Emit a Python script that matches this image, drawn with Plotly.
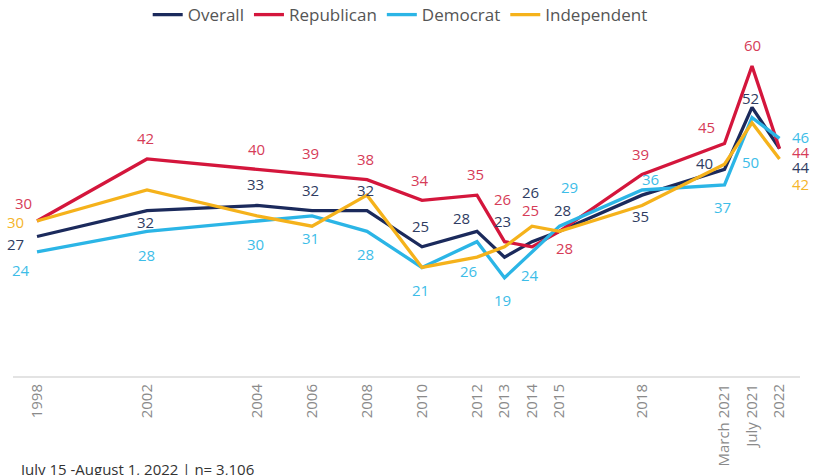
import plotly.graph_objects as go

# ---- data ----
periods = ["1998", "2002", "2004", "2006", "2008", "2010", "2012", "2013",
           "2014", "2015", "2018", "March 2021", "July 2021", "2022"]
# horizontal slot of each period on the axis (uneven spacing as in the original)
slots = [0, 4, 8, 10, 12, 14, 16, 17, 18, 19, 22, 25, 26, 27]

overall = [27, 32, 33, 32, 32, 25, 28, 23, 26, 28, 35, 40, 52, 44]
republican = [30, 42, 40, 39, 38, 34, 35, 26, 25, 28, 39, 45, 60, 44]
democrat = [24, 28, 30, 31, 28, 21, 26, 19, 24, 29, 36, 37, 50, 46]
independent = [30, 36, 31, 29, 35, 21, 23, 25, 29, 28, 33, 41, 49, 42]

# which points carry a visible label (index into periods) for each series
ind_labeled = [0, 13]

# ---- label offsets in pixels (dx right, dy down) ----
overall_off = [(-22, 8), (-2, 11), (-2, -21), (-2, -21), (-2, -21), (-2, -21), (-16, -13),
               (-2, -36), (-2, -50), (3, -21), (-2, 21), (-20, -6), (-2, -9), (21, 18)]
rep_off = [(-14, -18), (-2, -21), (-1, -20), (-2, -21), (-2, -21), (-2, -20), (-2, -21),
           (-2, -43), (-2, -37), (5, 17), (-2, -20), (-18, -16), (0, -21), (21, 3)]
dem_off = [(-16, 18), (-1, 24), (-2, 23), (-2, 22), (-2, 23), (-2, 23), (-9, 29),
           (-2, 22), (-2, 23), (10, -39), (8, -11), (-2, 22), (-2, 44), (21, -1)]
ind_off = {0: (-22, 1), 13: (21, 25)}

colors = {
    "Overall": "#1b2a5c",
    "Republican": "#d4163c",
    "Democrat": "#2bb5e6",
    "Independent": "#f5b21b",
}
label_colors = {
    "Overall": "#2f3c62",
    "Republican": "#d63c58",
    "Democrat": "#3dbde8",
    "Independent": "#f5b52a",
}

FONT = "'Open Sans', Lato, sans-serif"

fig = go.Figure()
series = [("Overall", overall), ("Republican", republican),
          ("Democrat", democrat), ("Independent", independent)]
for name, vals in series:
    fig.add_trace(go.Scatter(
        x=slots, y=vals, mode="lines", name=name,
        line=dict(color=colors[name], width=3.3),
        hoverinfo="skip",
    ))

annotations = []


def add_labels(name, vals, offsets, idxs=None):
    idxs = range(len(vals)) if idxs is None else idxs
    for i in idxs:
        dx, dy = offsets[i]
        annotations.append(dict(
            x=slots[i], y=vals[i], xref="x", yref="y",
            text=str(vals[i]), showarrow=False,
            xshift=dx, yshift=-dy, borderpad=0,
            font=dict(family=FONT, size=15, color=label_colors[name]),
        ))


add_labels("Overall", overall, overall_off)
add_labels("Republican", republican, rep_off)
add_labels("Democrat", democrat, dem_off)
add_labels("Independent", independent, ind_off, ind_labeled)

annotations.append(dict(
    x=0.005, y=-0.292, xref="paper", yref="paper", xanchor="left", yanchor="middle",
    text="July 15 -August 1, 2022 | n= 3,106", showarrow=False,
    font=dict(family=FONT, size=15, color="#333333"),
))

fig.update_layout(
    width=813, height=475,
    margin=dict(l=13, r=13, t=56, b=99, autoexpand=False),
    paper_bgcolor="white", plot_bgcolor="white",
    font=dict(family=FONT, color="#555555"),
    showlegend=True,
    legend=dict(
        orientation="h", x=0.492, xanchor="center", y=1.128, yanchor="middle",
        font=dict(family=FONT, size=17, color="#555555"),
        itemwidth=30, tracegroupgap=0, bgcolor="rgba(0,0,0,0)",
    ),
    annotations=annotations,
    xaxis=dict(
        range=[-0.873, 27.745],
        tickmode="array", tickvals=slots, ticktext=periods,
        tickangle=-90, showgrid=False, zeroline=False,
        showline=True, linecolor="#e3e3e3", linewidth=2,
        ticks="", tickfont=dict(family=FONT, size=15, color="#8a8a8a"),
        automargin=False, fixedrange=True,
    ),
    yaxis=dict(
        range=[0, 61.93], visible=False, showgrid=False, zeroline=False,
        automargin=False, fixedrange=True,
    ),
)

fig.write_html(
    "out.html",
    config={"displayModeBar": False},
    post_script="document.body.style.margin='0';document.body.style.overflow='hidden';",
)
